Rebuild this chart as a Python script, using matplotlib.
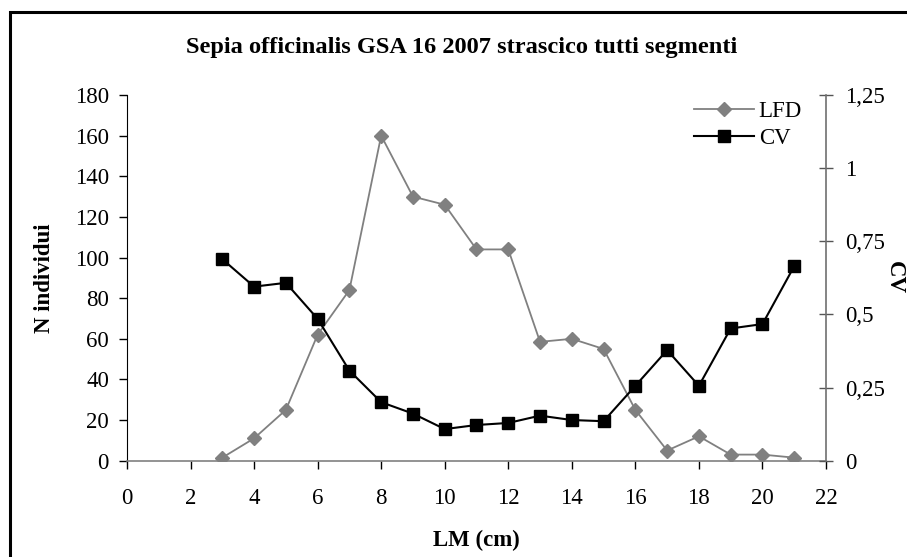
import matplotlib
matplotlib.use("Agg")
import matplotlib.pyplot as plt
from matplotlib.patches import Rectangle
from matplotlib.ticker import FuncFormatter

# --------- DATA ---------
lm_cm = [3, 4, 5, 6, 7, 8, 9, 10, 11, 12, 13, 14, 15, 16, 17, 18, 19, 20, 21]
lfd = [1.5, 11, 25, 62, 84, 160, 130, 126, 104, 104, 58.5, 60, 55, 25, 5, 12, 3, 3, 1.5]
cv = [0.689, 0.595, 0.608, 0.485, 0.308, 0.200, 0.161, 0.108, 0.122, 0.129,
      0.154, 0.139, 0.135, 0.256, 0.378, 0.256, 0.452, 0.467, 0.665]

x_ticks = list(range(0, 23, 2))
left_ticks = list(range(0, 181, 20))
right_ticks = [0, 0.25, 0.5, 0.75, 1, 1.25]

TITLE = "Sepia officinalis GSA 16 2007 strascico tutti segmenti"

plt.rcParams["font.family"] = ["Liberation Serif", "DejaVu Serif"]
FS = 16.5

fig = plt.figure(figsize=(9.07, 5.57), dpi=100)
ax = fig.add_axes([0.140, 0.1729, 0.7707, 0.6565])
ax2 = ax.twinx()

# outer frame (only left/top visible in the reference)
fig.patches.append(Rectangle((10 / 907, -0.1), 2.0, 1.1 - 12 / 557,
                             transform=fig.transFigure, fill=False,
                             edgecolor="black", linewidth=2.2))

l1, = ax.plot(lm_cm, lfd, color="#808080", marker="D", markersize=7.5,
              linewidth=1.3, label="LFD")
l2, = ax2.plot(lm_cm, cv, color="black", marker="s", markersize=8.5,
               linewidth=1.5, label="CV")

ax.set_xlim(0, 22)
ax.set_ylim(0, 180)
ax2.set_ylim(0, 1.25)
ax.set_xticks(x_ticks)
ax.set_yticks(left_ticks)
ax2.set_yticks(right_ticks)
ax2.yaxis.set_major_formatter(FuncFormatter(lambda v, p: f"{v:g}".replace(".", ",")))

for a in (ax, ax2):
    a.spines["top"].set_visible(False)
ax.spines["right"].set_visible(False)
ax2.spines["left"].set_visible(False)
ax2.spines["bottom"].set_visible(False)
ax.spines["left"].set_color("black")
ax.spines["bottom"].set_color("#808080")
ax2.spines["right"].set_color("#707070")
ax.spines["bottom"].set_linewidth(1.2)
ax2.spines["right"].set_linewidth(1.2)

ax.tick_params(axis="both", labelsize=FS, length=6, width=1, direction="out")
ax.tick_params(axis="x", pad=14)
ax.tick_params(axis="y", pad=7)
ax2.tick_params(axis="y", labelsize=FS, length=10, width=1, direction="inout",
                color="#555555", pad=9)

fig.text(462 / 907, 1 - 47 / 557, TITLE, fontsize=17.6, fontweight="bold",
         ha="center", va="center")
ax.set_xlabel("LM (cm)", fontsize=FS, fontweight="bold", labelpad=15)
ax.set_ylabel("N individui", fontsize=FS, fontweight="bold", labelpad=14)
ax2.set_ylabel("CV", fontsize=FS, fontweight="bold", rotation=-90, labelpad=14)

ax2.legend(handles=[l1, l2], loc="upper right", frameon=False, fontsize=FS,
           bbox_to_anchor=(0.995, 1.04), handlelength=2.6, handletextpad=0.2,
           labelspacing=0.25)

fig.savefig("out.png", dpi=100)
